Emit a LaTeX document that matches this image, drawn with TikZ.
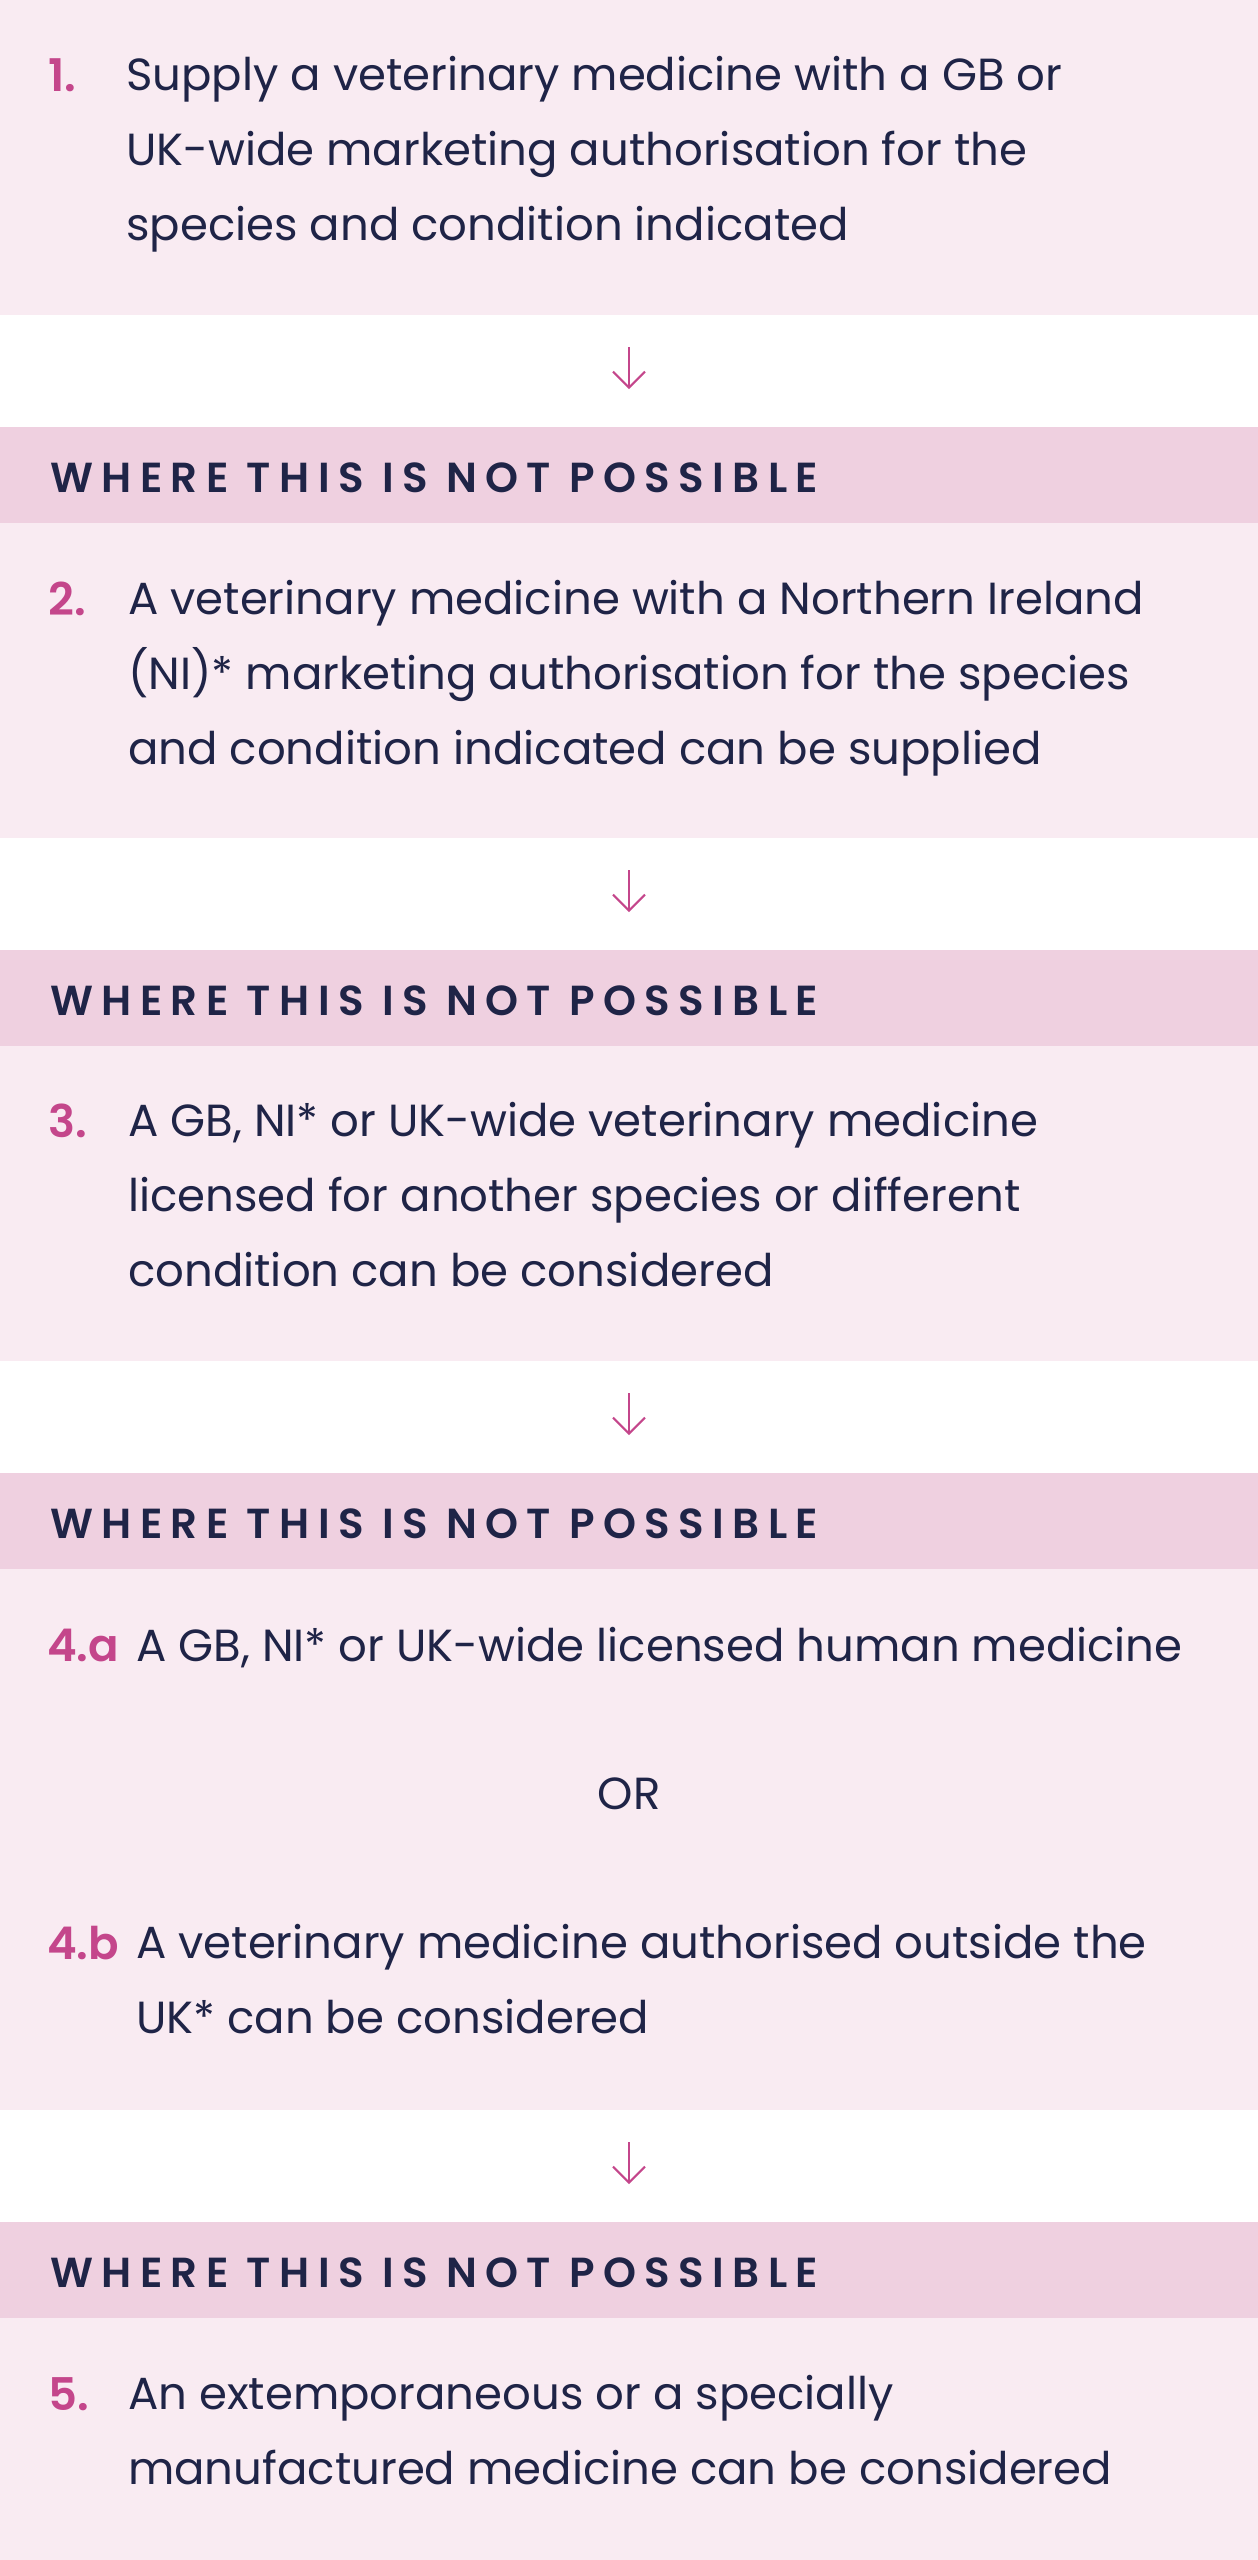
\documentclass[tikz,border=0pt]{standalone}
\usepackage{fontspec}
\setmainfont{Poppins}
\IfFontExistsTF{Poppins SemiBold}
  {\newfontfamily\semifont{Poppins SemiBold}
   \newfontfamily\headfont{Poppins SemiBold}[LetterSpace=20]}
  {\newfontfamily\semibase{Poppins}
   \newcommand\semifont{\semibase\bfseries}
   \newfontfamily\headbase{Poppins}[LetterSpace=18]
   \newcommand\headfont{\headbase\bfseries}}
\usetikzlibrary{positioning, arrows.meta}

\definecolor{stepfill}{HTML}{F9EBF2}
\definecolor{headfill}{HTML}{EFD0E0}
\definecolor{inkblue}{HTML}{1F2447}
\definecolor{numpink}{HTML}{C4468B}

\tikzset{
  stepbox/.style={rectangle, fill=stepfill, inner sep=0pt, outer sep=0pt,
    minimum width=1258pt, minimum height=315pt},
  headbox/.style={rectangle, fill=headfill, inner sep=0pt, outer sep=0pt,
    minimum width=1258pt, minimum height=96pt},
  headtext/.style={anchor=base west, inner sep=0pt, text=inkblue,
    font=\headfont\fontsize{42}{48}\selectfont},
  steptext/.style={anchor=base west, inner sep=0pt, align=left, text=inkblue,
    font=\fontsize{45}{75}\selectfont},
  stepnum/.style={anchor=base west, inner sep=0pt, text=numpink,
    font=\semifont\fontsize{45}{75}\selectfont},
  flowarrow/.style={draw=numpink, line width=2pt,
    -{Straight Barb[length=16pt, width=32pt, line width=2pt]}}
}

\begin{document}
\begin{tikzpicture}[x=1pt, y=-1pt]
\useasboundingbox (0,0) rectangle (1258,2560);
% boxes
\node[stepbox, anchor=north west] (step1) at (0,0) {};
\node[headbox, below=112pt of step1] (head1) {};
\node[stepbox, below=0pt of head1] (step2) {};
\node[headbox, below=112pt of step2] (head2) {};
\node[stepbox, below=0pt of head2] (step3) {};
\node[headbox, below=112pt of step3] (head3) {};
\node[stepbox, below=0pt of head3, minimum height=541pt] (step4) {};
\node[headbox, below=112pt of step4] (head4) {};
\node[stepbox, below=0pt of head4, minimum height=242pt] (step5) {};
% headers
\foreach \h in {1,...,4}
  \node[headtext] (label\h) at ([shift={(50,65)}]head\h.north west) {WHERE THIS IS NOT POSSIBLE};
% arrows
\foreach \a/\b in {step1/head1, step2/head2, step3/head3, step4/head4}
  \draw[flowarrow] ([yshift=-32pt]\a.south) -- ([yshift=38pt]\b.north);
% step 1 (text nodes sit on the baseline of their last line)
\node[stepnum] (num1) at ([shift={(48,91)}]step1.north west) {1.};
\node[steptext] (text1) at ([shift={(126,240)}]step1.north west)
  {Supply a veterinary medicine with a GB or\\UK-wide marketing authorisation for the\\species and condition indicated};
% step 2
\node[stepnum] (num2) at ([shift={(48,92)}]step2.north west) {2.};
\node[steptext] (text2) at ([shift={(128,241)}]step2.north west)
  {A veterinary medicine with a Northern Ireland\\(NI)* marketing authorisation for the species\\and condition indicated can be supplied};
% step 3
\node[stepnum] (num3) at ([shift={(48,91)}]step3.north west) {3.};
\node[steptext] (text3) at ([shift={(128,240)}]step3.north west)
  {A GB, NI* or UK-wide veterinary medicine\\licensed for another species or different\\condition can be considered};
% step 4
\node[stepnum] (num4a) at ([shift={(47,92)}]step4.north west) {4.a};
\node[steptext] (text4a) at ([shift={(136,92)}]step4.north west)
  {A GB, NI* or UK-wide licensed human medicine};
\node[steptext, anchor=base] (or4) at ([shift={(629,240)}]step4.north west) {OR};
\node[stepnum] (num4b) at ([shift={(47,390)}]step4.north west) {4.b};
\node[steptext] (text4b) at ([shift={(136,464)}]step4.north west)
  {A veterinary medicine authorised outside the\\UK* can be considered};
% step 5
\node[stepnum] (num5) at ([shift={(48,92)}]step5.north west) {5.};
\node[steptext] (text5) at ([shift={(128,166)}]step5.north west)
  {An extemporaneous or a specially\\manufactured medicine can be considered};
\end{tikzpicture}
\end{document}
